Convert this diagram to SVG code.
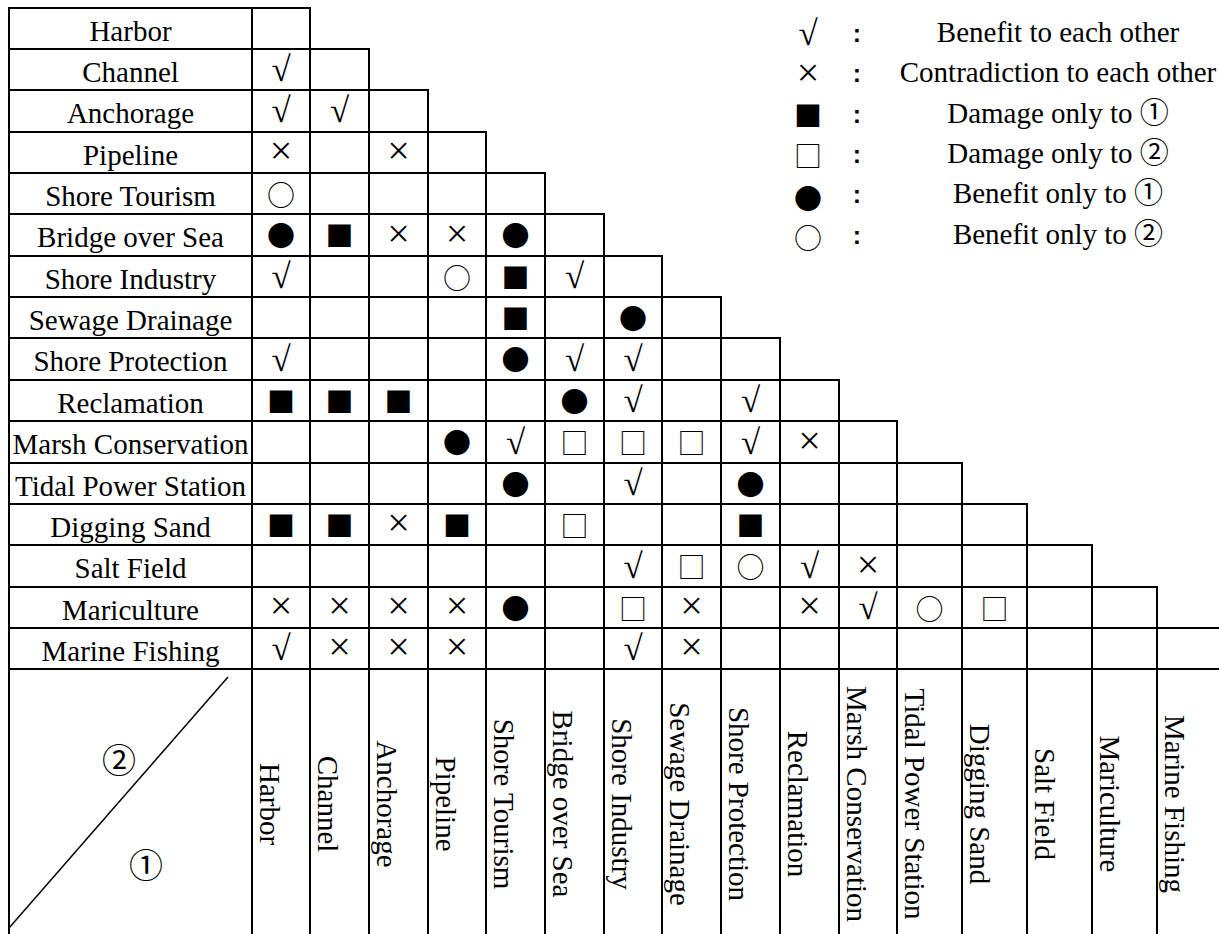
<svg xmlns="http://www.w3.org/2000/svg" width="1219" height="934" viewBox="0 0 1219 934">
<style>
.ln{stroke:#000;stroke-width:2;fill:none;stroke-linecap:square}
.dg{stroke:#000;stroke-width:1.5;fill:none}
.t{font-family:"Liberation Serif","Times New Roman","Noto Sans CJK SC",serif;font-size:29px;text-anchor:middle;fill:#000}
.s{font-family:"Noto Sans CJK SC",sans-serif;font-size:28px;text-anchor:middle;dominant-baseline:central;fill:#000}
.v{font-family:"Liberation Serif","Times New Roman",serif;font-size:35px;text-anchor:middle;dominant-baseline:central;fill:#000}
.x{font-family:"Liberation Serif","Times New Roman",serif;font-size:40px;text-anchor:middle;dominant-baseline:central;fill:#000}
.c{font-family:"Noto Sans CJK SC",sans-serif;font-size:34px;text-anchor:middle;dominant-baseline:central;fill:#000}
.col{font-family:"Liberation Sans",Arial,sans-serif;font-weight:bold;font-size:25px;text-anchor:middle;fill:#000}
</style>
<rect width="1219" height="934" fill="#fff"/>
<g id="grid">
<path class="ln" d="M9,8H310M9,49H369M9,90H428M9,132H486M9,173H545M9,214H604M9,256H662M9,297H721M9,338H780M9,380H839M9,421H897M9,463H962M9,504H1027M9,545H1092M9,587H1157M9,628H1219M9,669H1219"/>
<path class="ln" d="M9,8V934M252,8V934M310,8V934M369,49V934M428,90V934M486,132V934M545,173V934M604,214V934M662,256V934M721,297V934M780,338V934M839,380V934M897,421V934M962,463V934M1027,504V934M1092,545V934M1157,587V934"/>
<path class="dg" d="M9,928L228,677"/>
</g>
<g id="row-labels">
<text class="t" x="130.5" y="40.5">Harbor</text>
<text class="t" x="130.5" y="81.5">Channel</text>
<text class="t" x="130.5" y="122.5">Anchorage</text>
<text class="t" x="130.5" y="164.5">Pipeline</text>
<text class="t" x="130.5" y="205.5">Shore Tourism</text>
<text class="t" x="130.5" y="246.5">Bridge over Sea</text>
<text class="t" x="130.5" y="288.5">Shore Industry</text>
<text class="t" x="130.5" y="329.5">Sewage Drainage</text>
<text class="t" x="130.5" y="370.5">Shore Protection</text>
<text class="t" x="130.5" y="412.5">Reclamation</text>
<text class="t" x="130.5" y="453.5">Marsh Conservation</text>
<text class="t" x="130.5" y="495.5">Tidal Power Station</text>
<text class="t" x="130.5" y="536.5">Digging Sand</text>
<text class="t" x="130.5" y="577.5">Salt Field</text>
<text class="t" x="130.5" y="619.5">Mariculture</text>
<text class="t" x="130.5" y="660.5">Marine Fishing</text>
</g>
<g id="col-labels">
<text class="t" transform="translate(260.3,804) rotate(90)">Harbor</text>
<text class="t" transform="translate(318.3,804) rotate(90)">Channel</text>
<text class="t" transform="translate(377.3,804) rotate(90)">Anchorage</text>
<text class="t" transform="translate(436.3,804) rotate(90)">Pipeline</text>
<text class="t" transform="translate(494.3,804) rotate(90)">Shore Tourism</text>
<text class="t" transform="translate(553.3,804) rotate(90)">Bridge over Sea</text>
<text class="t" transform="translate(612.3,804) rotate(90)">Shore Industry</text>
<text class="t" transform="translate(670.3,804) rotate(90)">Sewage Drainage</text>
<text class="t" transform="translate(729.3,804) rotate(90)">Shore Protection</text>
<text class="t" transform="translate(788.3,804) rotate(90)">Reclamation</text>
<text class="t" transform="translate(847.3,804) rotate(90)">Marsh Conservation</text>
<text class="t" transform="translate(905.3,804) rotate(90)">Tidal Power Station</text>
<text class="t" transform="translate(970.3,804) rotate(90)">Digging Sand</text>
<text class="t" transform="translate(1035.3,804) rotate(90)">Salt Field</text>
<text class="t" transform="translate(1100.3,804) rotate(90)">Mariculture</text>
<text class="t" transform="translate(1165.3,804) rotate(90)">Marine Fishing</text>
</g>
<g id="corner">
<text class="c" x="119" y="758">②</text>
<text class="c" x="146" y="863">①</text>
</g>
<g id="cells">
<text class="v" x="281" y="69.5">√</text>
<text class="v" x="281" y="110.5">√</text><text class="v" x="339.5" y="110.5">√</text>
<text class="x" x="281" y="150">×</text><text class="x" x="398.5" y="150">×</text>
<text class="s" x="281" y="193.5">○</text>
<text class="s" x="281" y="235">●</text><text class="s" x="339.5" y="235">■</text><text class="x" x="398.5" y="233">×</text><text class="x" x="457" y="233">×</text><text class="s" x="515.5" y="235">●</text>
<text class="v" x="281" y="276.5">√</text><text class="s" x="457" y="276.5">○</text><text class="s" x="515.5" y="276.5">■</text><text class="v" x="574.5" y="276.5">√</text>
<text class="s" x="515.5" y="317.5">■</text><text class="s" x="633" y="317.5">●</text>
<text class="v" x="281" y="359">√</text><text class="s" x="515.5" y="359">●</text><text class="v" x="574.5" y="359">√</text><text class="v" x="633" y="359">√</text>
<text class="s" x="281" y="400.5">■</text><text class="s" x="339.5" y="400.5">■</text><text class="s" x="398.5" y="400.5">■</text><text class="s" x="574.5" y="400.5">●</text><text class="v" x="633" y="400.5">√</text><text class="v" x="750.5" y="400.5">√</text>
<text class="s" x="457" y="442">●</text><text class="v" x="515.5" y="442">√</text><text class="s" x="574.5" y="442">□</text><text class="s" x="633" y="442">□</text><text class="s" x="691.5" y="442">□</text><text class="v" x="750.5" y="442">√</text><text class="x" x="809.5" y="440">×</text>
<text class="s" x="515.5" y="483.5">●</text><text class="v" x="633" y="483.5">√</text><text class="s" x="750.5" y="483.5">●</text>
<text class="s" x="281" y="524.5">■</text><text class="s" x="339.5" y="524.5">■</text><text class="x" x="398.5" y="522.5">×</text><text class="s" x="457" y="524.5">■</text><text class="s" x="574.5" y="524.5">□</text><text class="s" x="750.5" y="524.5">■</text>
<text class="v" x="633" y="566">√</text><text class="s" x="691.5" y="566">□</text><text class="s" x="750.5" y="566">○</text><text class="v" x="809.5" y="566">√</text><text class="x" x="868" y="564">×</text>
<text class="x" x="281" y="605.5">×</text><text class="x" x="339.5" y="605.5">×</text><text class="x" x="398.5" y="605.5">×</text><text class="x" x="457" y="605.5">×</text><text class="s" x="515.5" y="607.5">●</text><text class="s" x="633" y="607.5">□</text><text class="x" x="691.5" y="605.5">×</text><text class="x" x="809.5" y="605.5">×</text><text class="v" x="868" y="607.5">√</text><text class="s" x="929.5" y="607.5">○</text><text class="s" x="994.5" y="607.5">□</text>
<text class="v" x="281" y="648.5">√</text><text class="x" x="339.5" y="646.5">×</text><text class="x" x="398.5" y="646.5">×</text><text class="x" x="457" y="646.5">×</text><text class="v" x="633" y="648.5">√</text><text class="x" x="691.5" y="646.5">×</text>
</g>
<g id="legend">
<text class="v" x="808" y="33">√</text><text class="col" x="857" y="41.5">:</text><text class="t" x="1058" y="41.5">Benefit to each other</text>
<text class="x" x="808" y="72">×</text><text class="col" x="857" y="82">:</text><text class="t" x="1058" y="82">Contradiction to each other</text>
<text class="s" x="808" y="115">■</text><text class="col" x="857" y="122.5">:</text><text class="t" x="1058" y="122.5">Damage only to ①</text>
<text class="s" x="808" y="155">□</text><text class="col" x="857" y="162.5">:</text><text class="t" x="1058" y="162.5">Damage only to ②</text>
<text class="s" x="808" y="198">●</text><text class="col" x="857" y="203">:</text><text class="t" x="1058" y="203">Benefit only to ①</text>
<text class="s" x="808" y="237">○</text><text class="col" x="857" y="243.5">:</text><text class="t" x="1058" y="243.5">Benefit only to ②</text>
</g>
</svg>
